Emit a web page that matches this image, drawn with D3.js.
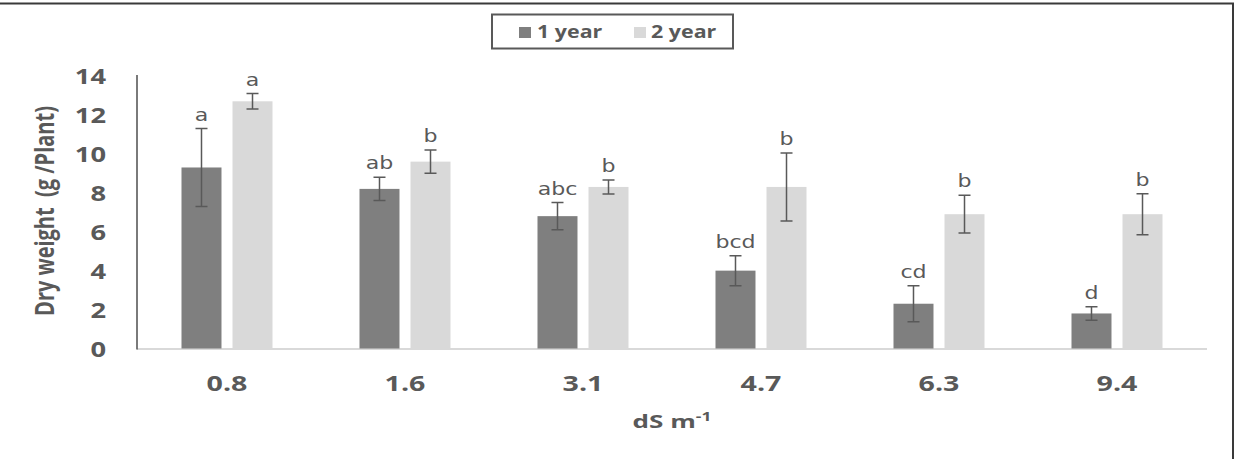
<!DOCTYPE html>
<html>
<head>
<meta charset="utf-8">
<script src="https://cdn.jsdelivr.net/npm/d3@7/dist/d3.min.js"></script>
<style>
  html, body { margin: 0; padding: 0; background: #fff; }
  svg { display: block; }
</style>
</head>
<body>
<svg id="chart" width="1240" height="459"></svg>
<script>
// ---- data ----
const categories = ["0.8", "1.6", "3.1", "4.7", "6.3", "9.4"];
const seriesNames = ["1 year", "2 year"];
const year1 = [9.3, 8.2, 6.8, 4.0, 2.3, 1.8];
const year1Err = [2.0, 0.6, 0.7, 0.77, 0.93, 0.35];
const year2 = [12.7, 9.6, 8.3, 8.3, 6.9, 6.9];
const year2Err = [0.4, 0.6, 0.36, 1.75, 0.97, 1.05];
const year1Letters = ["a", "ab", "abc", "bcd", "cd", "d"];
const year2Letters = ["a", "b", "b", "b", "b", "b"];
const yTicks = [0, 2, 4, 6, 8, 10, 12, 14];

// ---- layout ----
const svg = d3.select("#chart");
const plot = { left: 138, right: 1206, top: 76, bottom: 348.5 };
const textCol = "#595959";
const colors = { "1 year": "#7f7f7f", "2 year": "#d9d9d9" };
const SX = 1.3; // horizontal stretch of the original image

// outer frame (top and right edges visible)
svg.append("rect")
  .attr("x", -3).attr("y", 3.5).attr("width", 1236).attr("height", 470)
  .attr("fill", "none").attr("stroke", "#3a3a3a").attr("stroke-width", 2);

const x0 = d3.scaleBand().domain(categories).range([plot.left, plot.right]).padding(0);
const groupW = 91;
const x1 = d3.scaleBand().domain(seriesNames).range([0, groupW]).paddingInner(0.216).paddingOuter(0);
const y = d3.scaleLinear().domain([0, 14]).range([plot.bottom, plot.top]);

// baseline
svg.append("line")
  .attr("x1", plot.left - 1).attr("x2", plot.right + 1)
  .attr("y1", y(0) + 0.5).attr("y2", y(0) + 0.5)
  .attr("stroke", "#d9d9d9").attr("stroke-width", 2);

// y axis
const yAxis = d3.axisLeft(y).tickValues(yTicks).tickSize(0).tickPadding(0);
const gy = svg.append("g").attr("transform", `translate(${plot.left - 1},0)`).call(yAxis);
gy.select(".domain").attr("stroke", "#595959").attr("stroke-width", 1.6)
  .attr("d", `M0,${y(14) - 1}V${y(0) + 1}`);
gy.selectAll(".tick text")
  .attr("x", null).attr("dy", null)
  .attr("text-anchor", "end")
  .attr("transform", `translate(-31,7.5) scale(${SX},1)`)
  .attr("fill", textCol)
  .style("font-family", "'Open Sans', sans-serif")
  .style("font-weight", "bold")
  .style("font-size", "21px");

// x axis
const xAxis = d3.axisBottom(x0).tickSize(0).tickPadding(0);
const gx = svg.append("g").attr("transform", `translate(0,${plot.bottom})`).call(xAxis);
gx.select(".domain").remove();
gx.selectAll(".tick text")
  .attr("y", null).attr("dy", null)
  .attr("text-anchor", "middle")
  .attr("transform", `translate(0,42) scale(${SX},1)`)
  .attr("fill", textCol)
  .style("font-family", "'Open Sans', sans-serif")
  .style("font-weight", "bold")
  .style("font-size", "22px");

// data rows
const rows = categories.map((c, i) => ({
  cat: c,
  vals: [
    { s: "1 year", v: year1[i], e: year1Err[i], t: year1Letters[i] },
    { s: "2 year", v: year2[i], e: year2Err[i], t: year2Letters[i] }
  ]
}));

const offset = (x0.bandwidth() - groupW) / 2;
const groups = svg.append("g").selectAll("g").data(rows).join("g")
  .attr("transform", d => `translate(${x0(d.cat) + offset},0)`);

const bars = groups.selectAll("g.bar").data(d => d.vals).join("g").attr("class", "bar");

bars.append("rect")
  .attr("x", d => x1(d.s))
  .attr("width", x1.bandwidth())
  .attr("y", d => y(d.v))
  .attr("height", d => y(0) - y(d.v))
  .attr("fill", d => colors[d.s]);

const capW = 6;
bars.append("path")
  .attr("d", d => {
    const cx = x1(d.s) + x1.bandwidth() / 2;
    const yt = y(d.v + d.e), yb = y(d.v - d.e);
    return `M${cx},${yt}V${yb}M${cx - capW},${yt}H${cx + capW}M${cx - capW},${yb}H${cx + capW}`;
  })
  .attr("fill", "none").attr("stroke", "#595959").attr("stroke-width", 1.5);

bars.append("text")
  .attr("text-anchor", "middle")
  .attr("transform", d => `translate(${x1(d.s) + x1.bandwidth() / 2},${y(d.v + d.e) - 8}) scale(${SX},1)`)
  .attr("fill", textCol)
  .style("font-family", "'DejaVu Sans', sans-serif")
  .style("font-size", "17px")
  .text(d => d.t);

// y axis title
svg.append("text")
  .attr("text-anchor", "middle")
  .attr("xml:space", "preserve")
  .style("white-space", "pre")
  .attr("transform", `translate(54,211) scale(${SX},1) rotate(-90)`)
  .attr("fill", textCol)
  .style("font-family", "'Open Sans', sans-serif")
  .style("font-weight", "bold")
  .style("font-size", "20px")
  .text("Dry weight  (g /Plant)");

// x axis title
const xt = svg.append("text")
  .attr("text-anchor", "middle")
  .attr("transform", `translate(${(plot.left + plot.right) / 2},428) scale(1.45,1)`)
  .attr("fill", textCol)
  .style("font-family", "'Open Sans', sans-serif")
  .style("font-weight", "bold")
  .style("font-size", "18px");
xt.append("tspan").text("dS m");
xt.append("tspan").attr("dy", -7).style("font-size", "12px").text("-1");

// legend
const lg = svg.append("g");
lg.append("rect")
  .attr("x", 492).attr("y", 14.5).attr("width", 241).attr("height", 34)
  .attr("fill", "#fff").attr("stroke", "#595959").attr("stroke-width", 2);
const legendItems = [
  { s: seriesNames[0], sx: 519, tx: 537 },
  { s: seriesNames[1], sx: 634, tx: 651 }
];
legendItems.forEach(it => {
  lg.append("rect").attr("x", it.sx).attr("y", 27).attr("width", 12).attr("height", 11)
    .attr("fill", colors[it.s]);
  lg.append("text")
    .attr("transform", `translate(${it.tx},38) scale(1.26,1)`)
    .attr("fill", textCol)
    .style("font-family", "'Open Sans', sans-serif")
    .style("font-weight", "bold")
    .style("font-size", "17px")
    .text(it.s);
});
</script>
</body>
</html>
